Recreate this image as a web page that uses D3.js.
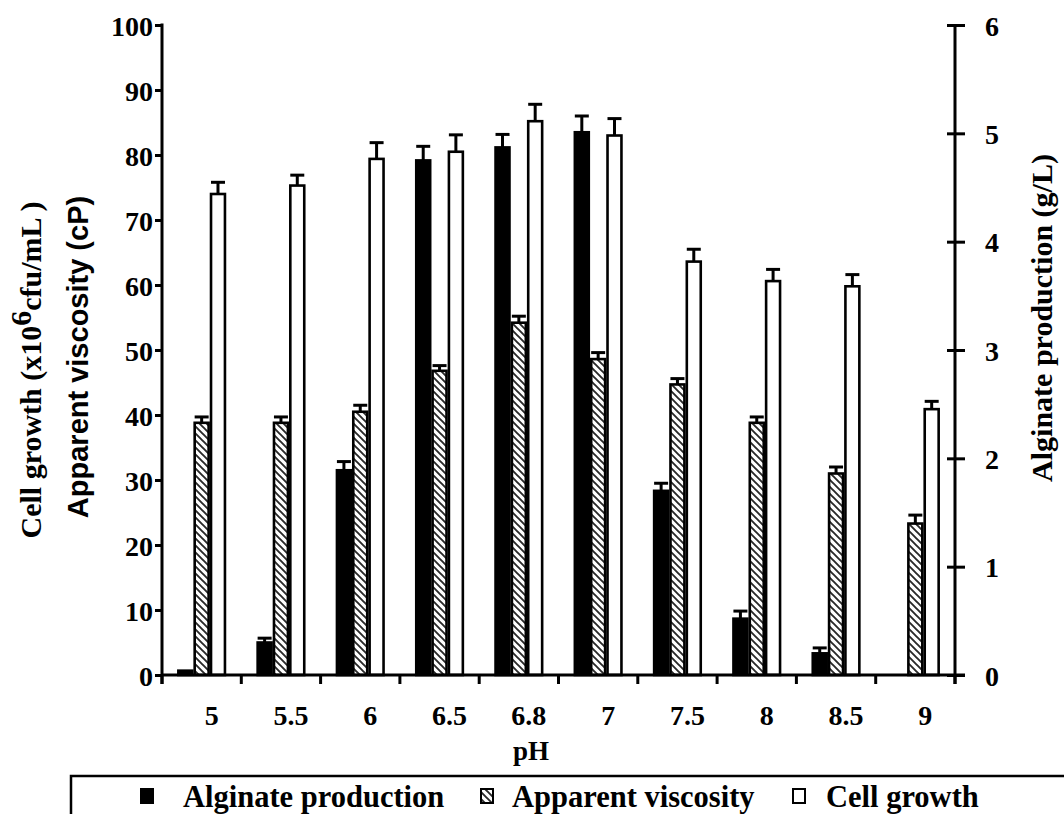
<!DOCTYPE html>
<html><head><meta charset="utf-8">
<script src="https://cdn.jsdelivr.net/npm/d3@7"></script>
<style>
html,body{margin:0;padding:0;background:#fff;}
svg{display:block;}
.serif{font-family:"Liberation Serif","Times New Roman",serif;font-weight:bold;}
.sans{font-family:"Liberation Sans",Arial,sans-serif;font-weight:bold;}
</style></head>
<body>
<svg id="chart" width="1064" height="814"></svg>
<script>
// ---- data ----
const pH = ["5","5.5","6","6.5","6.8","7","7.5","8","8.5","9"];
const alginate    = [0.04, 0.30, 1.89, 4.75, 4.87, 5.01, 1.70, 0.52, 0.20, 0];
const alginateErr = [0.00, 0.04, 0.08, 0.13, 0.12, 0.15, 0.07, 0.07, 0.05, 0];
const viscosity    = [38.8, 38.8, 40.5, 46.8, 54.2, 48.6, 44.7, 38.8, 31.0, 23.3];
const viscosityErr = [0.9, 0.9, 1.0, 0.8, 1.0, 1.0, 0.9, 0.9, 1.0, 1.3];
const cellGrowth = [74.0, 75.3, 79.4, 80.5, 85.2, 83.0, 63.6, 60.6, 59.8, 40.9];
const cellErr    = [1.8, 1.6, 2.5, 2.6, 2.6, 2.6, 1.9, 1.8, 1.8, 1.2];
const leftTicks  = [0,10,20,30,40,50,60,70,80,90,100];
const rightTicks = [0,1,2,3,4,5,6];
const seriesNames = ["Alginate production","Apparent viscosity","Cell growth"];

// ---- layout ----
const svg = d3.select("#chart");
const X0 = 162, X1 = 955, Y0 = 675, YT = 25;
const x = d3.scaleBand().domain(pH).range([X0, X1]);
const groupW = 49;
const xs = d3.scaleBand().domain(seriesNames).range([-groupW/2, groupW/2]);
const yL = d3.scaleLinear().domain([0,100]).range([Y0, YT]);
const yR = d3.scaleLinear().domain([0,6]).range([Y0, YT]);

// hatch pattern
const defs = svg.append("defs");
const pat = defs.append("pattern").attr("id","hatch").attr("patternUnits","userSpaceOnUse")
  .attr("width",7).attr("height",7);
pat.append("rect").attr("width",7).attr("height",7).attr("fill","#fff");
pat.append("path").attr("d","M-1,-1 L8,8 M-1,6 L1,8 M6,-1 L8,1")
  .attr("stroke","#2a2a2a").attr("stroke-width",1.9);

const series = [
  {name: seriesNames[0], vals: alginate,  err: alginateErr,  y: yR, fill: "#000"},
  {name: seriesNames[1], vals: viscosity, err: viscosityErr, y: yL, fill: "url(#hatch)"},
  {name: seriesNames[2], vals: cellGrowth,err: cellErr,      y: yL, fill: "#fff"}
];

const bw = xs.bandwidth();
const gBars = svg.append("g");
series.forEach(s => {
  const data = pH.map((p,i) => ({p, v: s.vals[i], e: s.err[i]}));
  const cx = d => x(d.p) + x.bandwidth()/2 + xs(s.name);
  const eg = gBars.selectAll(null).data(data.filter(d => d.e > 0)).enter().append("g");
  eg.append("line").attr("x1", d => cx(d)+bw/2).attr("x2", d => cx(d)+bw/2)
    .attr("y1", d => s.y(d.v)).attr("y2", d => s.y(d.v + d.e))
    .attr("stroke","#000").attr("stroke-width",3);
  eg.append("line").attr("x1", d => cx(d)+bw/2-7).attr("x2", d => cx(d)+bw/2+7)
    .attr("y1", d => s.y(d.v + d.e)).attr("y2", d => s.y(d.v + d.e))
    .attr("stroke","#000").attr("stroke-width",3);
  gBars.selectAll(null).data(data.filter(d => d.v > 0)).enter().append("rect")
    .attr("x", d => cx(d)+1.2).attr("width", bw-2.4)
    .attr("y", d => s.y(d.v)).attr("height", d => Y0 - s.y(d.v))
    .attr("fill", s.fill).attr("stroke","#000").attr("stroke-width",2.6);
});

// ---- axes ----
function styleAxis(g){
  g.selectAll("path.domain").remove();
  g.selectAll(".tick line").attr("stroke","#000").attr("stroke-width",3);
  g.selectAll(".tick text").attr("class","serif").attr("font-size",28).attr("fill","#000");
}
const gl = svg.append("g").attr("transform",`translate(${X0},0)`)
  .call(d3.axisLeft(yL).tickValues(leftTicks).tickSize(7).tickPadding(2).tickFormat(d3.format("d")));
styleAxis(gl);
gl.selectAll(".tick text").attr("dy","0.36em");
svg.append("line").attr("x1",X0).attr("x2",X0).attr("y1",YT-1.5).attr("y2",Y0+9)
  .attr("stroke","#000").attr("stroke-width",3);
const gr = svg.append("g").attr("transform",`translate(${X1},0)`)
  .call(d3.axisRight(yR).tickValues(rightTicks).tickSize(10).tickPadding(20).tickFormat(d3.format("d")));
styleAxis(gr);
gr.selectAll(".tick line").attr("x1",-8);
gr.selectAll(".tick text").attr("dy","0.36em");
svg.append("line").attr("x1",X1).attr("x2",X1).attr("y1",YT).attr("y2",Y0+9)
  .attr("stroke","#000").attr("stroke-width",3);
svg.append("line").attr("x1",X0).attr("x2",X1+10).attr("y1",Y0).attr("y2",Y0)
  .attr("stroke","#000").attr("stroke-width",3);
const bounds = pH.map(p => x(p)).concat([X1]);
svg.selectAll(null).data(bounds).enter().append("line")
  .attr("x1", d => d).attr("x2", d => d).attr("y1", Y0).attr("y2", Y0+9)
  .attr("stroke","#000").attr("stroke-width",3);
svg.selectAll(null).data(pH).enter().append("text").attr("class","serif")
  .attr("x", d => x(d) + x.bandwidth()/2 + 10).attr("y", 725)
  .attr("text-anchor","middle").attr("font-size",28).text(d => d);

// ---- titles ----
svg.append("text").attr("class","serif").attr("x",531).attr("y",760)
  .attr("text-anchor","middle").attr("font-size",27).text("pH");

const t1 = svg.append("text").attr("class","serif").attr("font-size",30)
  .attr("text-anchor","middle").attr("transform","translate(41,370) rotate(-90)");
t1.append("tspan").text("Cell growth (x10");
t1.append("tspan").attr("dy",-10).text("6");
t1.append("tspan").attr("dy",10).text("cfu/mL )");

svg.append("text").attr("class","sans").attr("font-size",29)
  .attr("text-anchor","middle").attr("transform","translate(88,357) rotate(-90)")
  .text("Apparent viscosity (cP)");

svg.append("text").attr("class","serif").attr("font-size",30)
  .attr("text-anchor","middle").attr("transform","translate(1052,318) rotate(-90)")
  .text("Alginate production (g/L)");

// ---- legend ----
svg.append("path").attr("d","M71,814 L71,776 L1064,776").attr("fill","none")
  .attr("stroke","#000").attr("stroke-width",2.5);
const legendX = [140, 480, 792];
const legendTextX = [43, 32, 34];
const legendFill = ["#000","url(#hatch)","#fff"];
const lg = svg.selectAll(null).data(seriesNames).enter().append("g")
  .attr("transform",(d,i) => `translate(${legendX[i]},0)`);
lg.append("rect").attr("x",1).attr("y",789).attr("width",12).attr("height",14)
  .attr("fill",(d,i) => legendFill[i]).attr("stroke","#000").attr("stroke-width",2);
lg.append("text").attr("class","serif").attr("x",(d,i)=> legendTextX[i]).attr("y",807)
  .attr("font-size",30.5).text(d => d);
</script>
</body></html>
